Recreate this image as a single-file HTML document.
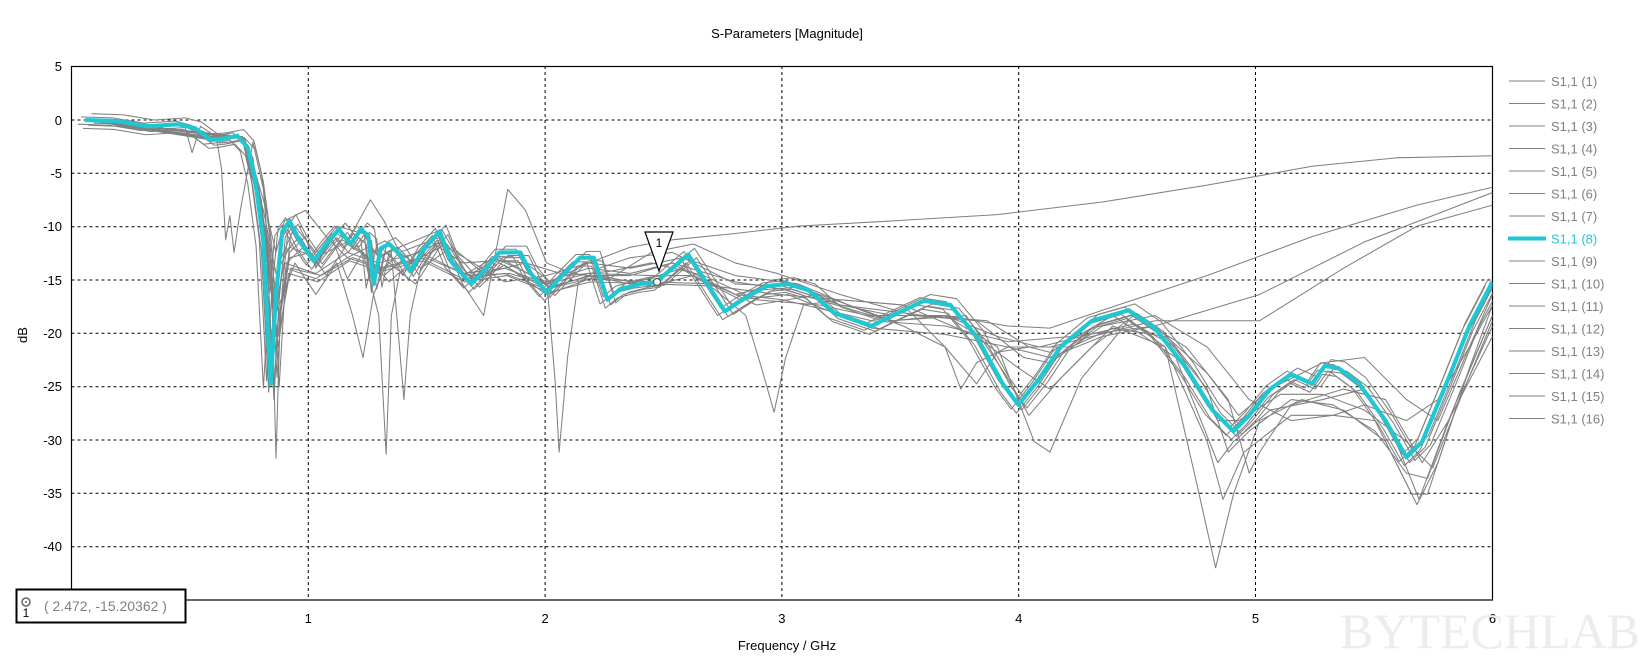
<!DOCTYPE html>
<html><head><meta charset="utf-8"><style>
html,body{margin:0;padding:0;background:#fff;}
svg{display:block;font-family:"Liberation Sans","DejaVu Sans",sans-serif;}
</style></head><body>
<svg width="1645" height="662" viewBox="0 0 1645 662" xmlns="http://www.w3.org/2000/svg">
<rect width="1645" height="662" fill="#fff"/>
<text x="787" y="38" font-size="13" text-anchor="middle" fill="#000">S-Parameters [Magnitude]</text>
<!-- grid -->
<g stroke="#000" stroke-width="1" stroke-dasharray="3,3">
<line x1="71.5" y1="120" x2="1492.5" y2="120"/>
<line x1="71.5" y1="173.3" x2="1492.5" y2="173.3"/>
<line x1="71.5" y1="226.7" x2="1492.5" y2="226.7"/>
<line x1="71.5" y1="280" x2="1492.5" y2="280"/>
<line x1="71.5" y1="333.3" x2="1492.5" y2="333.3"/>
<line x1="71.5" y1="386.7" x2="1492.5" y2="386.7"/>
<line x1="71.5" y1="440" x2="1492.5" y2="440"/>
<line x1="71.5" y1="493.3" x2="1492.5" y2="493.3"/>
<line x1="71.5" y1="546.7" x2="1492.5" y2="546.7"/>
<line x1="308.3" y1="66" x2="308.3" y2="600"/>
<line x1="545.1" y1="66" x2="545.1" y2="600"/>
<line x1="781.9" y1="66" x2="781.9" y2="600"/>
<line x1="1018.7" y1="66" x2="1018.7" y2="600"/>
<line x1="1255.5" y1="66" x2="1255.5" y2="600"/>
</g>
<rect x="71.5" y="66.5" width="1421" height="533.5" fill="none" stroke="#000" stroke-width="1.2"/>
<g font-size="13" fill="#000" text-anchor="end">
<text x="62" y="71">5</text><text x="62" y="125">0</text><text x="62" y="178">-5</text>
<text x="62" y="231">-10</text><text x="62" y="285">-15</text><text x="62" y="338">-20</text>
<text x="62" y="391">-25</text><text x="62" y="445">-30</text><text x="62" y="498">-35</text>
<text x="62" y="551">-40</text>
</g>
<g font-size="13" fill="#000" text-anchor="middle">
<text x="308.3" y="623">1</text><text x="545.1" y="623">2</text><text x="781.9" y="623">3</text>
<text x="1018.7" y="623">4</text><text x="1255.5" y="623">5</text><text x="1492.5" y="623">6</text>
<text x="787" y="650">Frequency / GHz</text>
</g>
<text x="27" y="335" font-size="13" text-anchor="middle" transform="rotate(-90 27 335)">dB</text>
<text x="1640" y="648" font-size="50" fill="#ececec" text-anchor="end" font-family="Liberation Serif, serif">BYTECHLAB</text>

<svg x="71.5" y="66" width="1421" height="534" overflow="hidden" viewBox="71.5 66 1421 534">
<defs>
<path id="c8" d="M80,114 L110,115 140,120 170,118 185,122 200,133 210,132 225,129 235,140 242,170 250,230 257,365 262,280 268,220 275,210 285,230 298,248 310,232 322,218 333,232 343,218 350,224 355,270 362,236 370,232 380,242 390,258 402,238 418,220 430,250 448,270 460,258 475,240 495,240 505,260 520,278 535,262 552,245 565,245 578,285 590,275 610,270 625,268 640,255 655,242 670,265 690,296 710,283 730,272 750,270 770,276 795,298 830,310 850,300 880,286 905,290 930,320 955,365 970,385 990,360 1010,330 1040,305 1075,295 1100,312 1130,350 1155,390 1175,410 1190,395 1210,370 1230,356 1250,365 1262,348 1275,350 1295,365 1320,400 1340,435 1355,420 1380,360 1400,310 1422,268"/>
</defs>
<g transform="translate(71.5,120) scale(1.0487,1.051) translate(-67,-114)" fill="none" stroke="#808080" stroke-width="1" stroke-linejoin="round">
<g vector-effect="non-scaling-stroke">
<use href="#c8" transform="translate(3,5)"/>
<use href="#c8" transform="translate(-4,-3)"/>
<use href="#c8" transform="translate(6,-6)"/>
<use href="#c8" transform="translate(-2,8)"/>
<use href="#c8" transform="translate(8,3)"/>
<use href="#c8" transform="translate(-7,4)"/>
</g>
<polyline points="80,114 140,119 170,118 200,132 225,128 240,150 250,240 258,330 265,250 280,215 300,240 320,215 345,222 360,245 380,235 420,218 445,262 475,245 520,270 560,250 600,235 640,228 700,222 760,215 850,210 950,204 1050,192 1150,176 1250,158 1330,150 1422,148"/>
<polyline points="80,114 200,131 228,130 244,170 254,250 262,300 270,240 285,225 300,250 320,222 340,235 360,260 380,240 420,225 440,262 470,245 520,268 560,255 600,260 640,250 700,268 745,275 830,300 900,300 960,310 1000,312 1050,295 1150,262 1250,225 1350,195 1422,178"/>
<polyline points="80,114 200,133 230,130 246,180 256,270 264,320 272,250 288,235 305,255 325,228 345,240 365,262 385,245 420,230 445,265 475,250 520,275 560,262 600,270 650,255 700,280 745,285 830,305 900,310 960,325 1020,320 1100,310 1200,280 1300,230 1422,183"/>
<polyline points="80,114 200,132 232,131 248,190 258,280 266,300 275,245 295,240 310,262 330,232 350,245 370,268 390,250 425,232 450,268 480,252 520,280 570,262 620,272 660,262 705,285 750,280 830,312 900,318 960,330 1000,330 1100,305 1200,305 1280,255 1350,215 1422,195"/>
<polyline points="80,114 230,130 252,220 260,300 270,250 300,260 330,240 360,250 400,240 440,260 480,255 520,270 560,260 620,262 660,262 700,280 750,268 800,290 850,300 900,300 950,330 985,420 1000,430 1030,360 1075,305 1110,330 1140,460 1158,540 1175,470 1200,400 1240,380 1280,390 1320,420 1350,480 1370,440 1400,350 1422,290"/>
<polyline points="80,114 230,130 254,230 262,320 272,255 300,265 330,245 360,255 400,245 440,265 480,260 520,275 560,265 620,268 680,270 720,290 780,280 850,305 920,300 960,360 980,395 1010,360 1060,310 1110,330 1150,420 1165,475 1185,430 1230,395 1270,395 1310,400 1345,470 1360,470 1390,380 1422,310"/>
<polyline points="80,114 232,131 256,240 264,330 274,260 302,268 332,248 362,258 402,248 442,268 482,262 522,278 562,268 622,270 680,272 740,280 800,285 860,290 930,320 970,350 1000,370 1040,330 1080,300 1130,330 1170,380 1190,450 1200,430 1230,385 1280,370 1320,380 1355,440 1380,400 1422,300"/>
<polyline points="80,114 232,132 256,235 266,310 276,255 305,262 335,245 365,255 405,245 445,262 485,260 525,272 565,262 600,262 640,250 680,275 710,300 725,350 737,392 748,340 765,290 800,285 860,290 900,330 915,370 930,345 960,330 1000,340 1050,320 1100,310 1150,355 1180,395 1210,370 1260,345 1300,340 1340,380 1370,400 1400,330 1422,280"/>
<polyline points="80,114 150,119 175,120 182,145 190,120 205,130 210,160 214,228 218,205 222,240 228,200 240,135 250,180 258,280 262,436 266,300 275,240 290,225 300,255 315,225 330,265 345,240 360,300 367,432 372,300 380,260 395,250 410,230 440,250 470,248 500,250 520,265 528,360 532,430 540,340 550,270 570,255 600,245 640,240 700,270 745,272 800,290 880,300 940,305 980,330 1000,335 1060,300 1120,340 1160,440 1175,420 1210,390 1260,380 1300,370 1330,420 1352,475 1380,400 1422,320"/>
<polyline points="80,114 200,130 230,130 245,175 255,275 260,380 265,290 280,250 300,280 320,250 335,300 345,340 355,280 372,240 384,380 390,300 400,255 420,225 440,270 460,300 483,180 500,200 520,250 545,260 580,265 620,240 660,232 700,250 740,260 800,280 870,300 930,305 975,340 1000,345 1050,310 1100,300 1150,330 1190,380 1230,400 1270,395 1300,385 1340,400 1370,380 1400,330 1422,290"/>
<polyline points="80,114 230,130 250,200 262,260 275,235 300,245 330,230 352,190 365,210 380,240 400,255 430,235 460,260 500,250 540,262 580,258 620,250 670,262 720,285 780,290 850,305 900,300 950,320 990,330 1030,320 1080,308 1120,330 1160,400 1180,400 1220,375 1260,375 1300,390 1340,420 1365,445 1395,370 1422,305"/>
<polyline points="80,114 232,131 250,190 262,240 270,210 290,200 310,225 330,245 350,235 370,250 395,270 420,232 450,250 480,268 520,262 560,250 600,255 650,245 700,262 760,270 820,295 860,310 900,330 930,365 950,335 980,330 1020,330 1060,312 1110,320 1150,370 1170,430 1190,410 1230,380 1270,385 1310,410 1340,450 1360,455 1390,375 1422,300"/>
</g>
<use href="#c8" transform="translate(71.5,120) scale(1.0487,1.051) translate(-67,-114)" fill="none" stroke="#1ec8d2" stroke-width="4" stroke-linejoin="round" vector-effect="non-scaling-stroke" style="vector-effect:non-scaling-stroke"/>
</svg>

<!-- marker -->
<polygon points="645,232 673,232 659,271" fill="#fff" stroke="#000" stroke-width="1.2"/>
<text x="659" y="247" font-size="12" text-anchor="middle">1</text>
<circle cx="657" cy="282" r="3.5" fill="#fff" stroke="#555" stroke-width="1.2"/>

<!-- marker readout -->
<rect x="16.5" y="589.5" width="169" height="33" fill="#fff" stroke="#000" stroke-width="2"/>
<circle cx="26" cy="602" r="4" fill="none" stroke="#666" stroke-width="1.5"/>
<circle cx="26" cy="602" r="1" fill="#666"/>
<text x="26" y="617" font-size="12" text-anchor="middle">1</text>
<text x="44" y="611" font-size="14" fill="#808080">( 2.472, -15.20362 )</text>

<!-- legend -->
<g font-size="13" fill="#808080" stroke-width="1">
<line x1="1509" y1="81" x2="1545" y2="81" stroke="#808080"/><text x="1551" y="86">S1,1 (1)</text>
<line x1="1509" y1="103.5" x2="1545" y2="103.5" stroke="#808080"/><text x="1551" y="108.5">S1,1 (2)</text>
<line x1="1509" y1="126" x2="1545" y2="126" stroke="#808080"/><text x="1551" y="131">S1,1 (3)</text>
<line x1="1509" y1="148.5" x2="1545" y2="148.5" stroke="#808080"/><text x="1551" y="153.5">S1,1 (4)</text>
<line x1="1509" y1="171" x2="1545" y2="171" stroke="#808080"/><text x="1551" y="176">S1,1 (5)</text>
<line x1="1509" y1="193.5" x2="1545" y2="193.5" stroke="#808080"/><text x="1551" y="198.5">S1,1 (6)</text>
<line x1="1509" y1="216" x2="1545" y2="216" stroke="#808080"/><text x="1551" y="221">S1,1 (7)</text>
<line x1="1508" y1="238.5" x2="1546" y2="238.5" stroke="#1ec8d2" stroke-width="4"/><text x="1551" y="243.5" fill="#1ec8d2">S1,1 (8)</text>
<line x1="1509" y1="261" x2="1545" y2="261" stroke="#808080"/><text x="1551" y="266">S1,1 (9)</text>
<line x1="1509" y1="283.5" x2="1545" y2="283.5" stroke="#808080"/><text x="1551" y="288.5">S1,1 (10)</text>
<line x1="1509" y1="306" x2="1545" y2="306" stroke="#808080"/><text x="1551" y="311">S1,1 (11)</text>
<line x1="1509" y1="328.5" x2="1545" y2="328.5" stroke="#808080"/><text x="1551" y="333.5">S1,1 (12)</text>
<line x1="1509" y1="351" x2="1545" y2="351" stroke="#808080"/><text x="1551" y="356">S1,1 (13)</text>
<line x1="1509" y1="373.5" x2="1545" y2="373.5" stroke="#808080"/><text x="1551" y="378.5">S1,1 (14)</text>
<line x1="1509" y1="396" x2="1545" y2="396" stroke="#808080"/><text x="1551" y="401">S1,1 (15)</text>
<line x1="1509" y1="418.5" x2="1545" y2="418.5" stroke="#808080"/><text x="1551" y="423.5">S1,1 (16)</text>
</g>
</svg>
</body></html>
